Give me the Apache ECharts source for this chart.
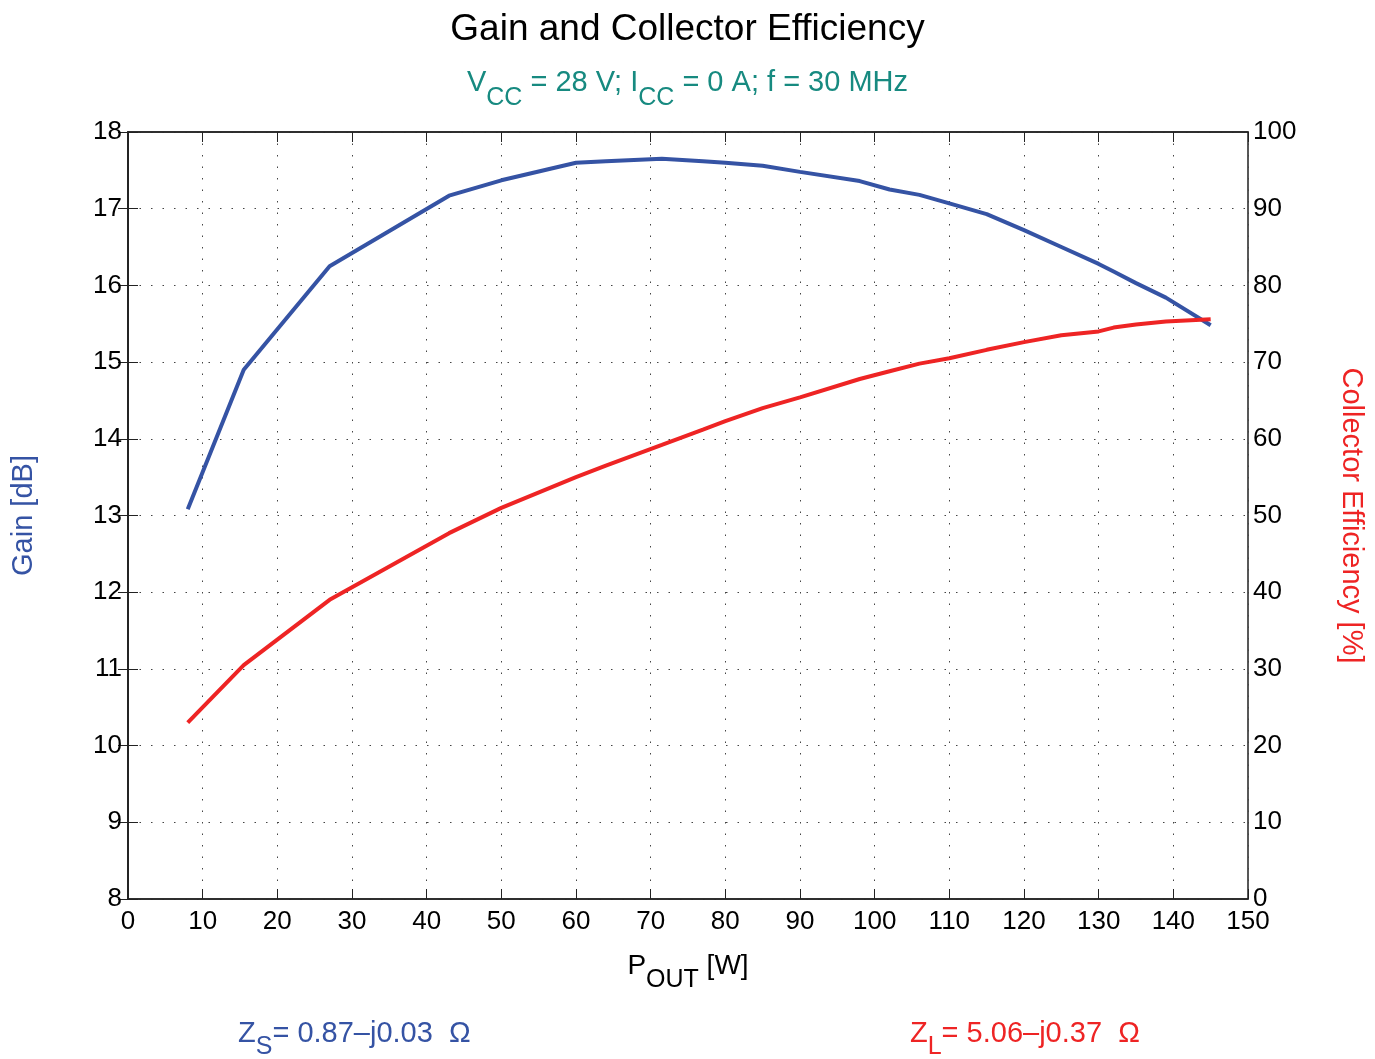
<!DOCTYPE html>
<html>
<head>
<meta charset="utf-8">
<script src="https://cdn.jsdelivr.net/npm/echarts@6/dist/echarts.min.js"></script>
<style>
  html, body { margin: 0; padding: 0; background: #fff; }
  #chart { width: 1375px; height: 1059px; }
</style>
</head>
<body>
<div id="chart"></div>
<script>
// output power [W]
var pout = [8, 15.5, 27, 43, 50, 60, 64, 71.5, 77, 80, 85, 90, 98, 102, 106, 110, 115, 120, 125, 130, 132, 135, 139, 145];
// gain [dB]
var gain = [13.08, 14.9, 16.25, 17.17, 17.37, 17.6, 17.62, 17.65, 17.62, 17.6, 17.56, 17.48, 17.36, 17.25, 17.18, 17.07, 16.93, 16.72, 16.5, 16.28, 16.18, 16.03, 15.84, 15.48];
// collector efficiency [%]
var efficiency = [23, 30.5, 39, 47.7, 51, 55, 56.5, 59.2, 61.2, 62.3, 64, 65.4, 67.8, 68.8, 69.8, 70.5, 71.6, 72.6, 73.5, 74, 74.5, 74.9, 75.3, 75.6];

var BLUE = '#3553a4';
var RED = '#ee2424';
var TEAL = '#178a80';
var AXIS = '#222';
var FONT = '"Liberation Sans", Arial, Helvetica, sans-serif';

function pairs(xs, ys) {
    var out = [];
    for (var i = 0; i < xs.length; i++) {
        out.push([xs[i], ys[i]]);
    }
    return out;
}

// rich styles for "main text + dropped subscript"
function subRich(color, size, subSize, drop, key) {
    var n = { fontSize: size, fontWeight: 'normal', fontFamily: FONT, verticalAlign: 'top' };
    var s = { fontSize: subSize, fontWeight: 'normal', fontFamily: FONT, verticalAlign: 'top', padding: [drop, 0, 0, 0] };
    n[key] = color;
    s[key] = color;
    return { n: n, s: s };
}

var gridDots = {
    show: true,
    lineStyle: { color: '#444', width: 1, type: [1.5, 10] }
};

var chart = echarts.init(document.getElementById('chart'));
chart.setOption({
    backgroundColor: '#fff',
    animation: false,
    textStyle: { fontFamily: FONT },
    title: [{
        text: 'Gain and Collector Efficiency',
        left: 'center',
        top: 6,
        textStyle: { fontSize: 37, fontWeight: 'normal', color: '#000', fontFamily: FONT }
    }, {
        // subtitle with subscripts
        text: '{n|V}{s|CC}{n| = 28 V; I}{s|CC}{n| = 0 A; f = 30 MHz}',
        left: 'center',
        top: 63,
        textStyle: { fontWeight: 'normal', rich: subRich(TEAL, 29, 25, 18, 'color') }
    }],
    grid: {
        left: 128,
        right: 127,
        top: 132,
        bottom: 160,
        show: true,
        borderColor: AXIS,
        borderWidth: 1.5
    },
    xAxis: [{
        type: 'value',
        min: 0,
        max: 150,
        interval: 10,
        position: 'bottom',
        axisLine: { show: true, lineStyle: { color: AXIS, width: 1.5 } },
        axisTick: { show: true, inside: true, length: 10, lineStyle: { color: AXIS } },
        axisLabel: { fontSize: 26, color: '#000', margin: 10, fontFamily: FONT },
        splitLine: gridDots,
        name: '{n|P}{s|OUT}{n| [W]}',
        nameLocation: 'middle',
        nameGap: 53,
        nameTextStyle: { rich: subRich('#000', 28, 25, 16, 'color') }
    }, {
        // mirrored ticks along the top edge
        type: 'value',
        min: 0,
        max: 150,
        interval: 10,
        position: 'top',
        axisLine: { show: true, lineStyle: { color: AXIS, width: 1.5 } },
        axisTick: { show: true, inside: true, length: 10, lineStyle: { color: AXIS } },
        axisLabel: { show: false },
        splitLine: { show: false }
    }],
    yAxis: [{
        type: 'value',
        min: 8,
        max: 18,
        interval: 1,
        position: 'left',
        axisLine: { show: true, lineStyle: { color: AXIS, width: 1.5 } },
        axisTick: { show: true, inside: true, length: 10, lineStyle: { color: AXIS } },
        axisLabel: { fontSize: 26, color: '#000', margin: 6, fontFamily: FONT },
        splitLine: gridDots,
        name: 'Gain [dB]',
        nameLocation: 'middle',
        nameRotate: 90,
        nameGap: 90,
        nameTextStyle: { fontSize: 29, color: BLUE, fontFamily: FONT }
    }, {
        type: 'value',
        min: 0,
        max: 100,
        interval: 10,
        position: 'right',
        axisLine: { show: true, lineStyle: { color: AXIS, width: 1.5 } },
        axisTick: { show: true, inside: true, length: 10, lineStyle: { color: AXIS } },
        axisLabel: { fontSize: 26, color: '#000', margin: 5, fontFamily: FONT },
        splitLine: { show: false },
        name: 'Collector Efficiency [%]',
        nameLocation: 'middle',
        nameRotate: -90,
        nameGap: 88,
        nameTextStyle: { fontSize: 29, color: RED, fontFamily: FONT }
    }],
    series: [{
        name: 'Gain',
        type: 'line',
        xAxisIndex: 0,
        yAxisIndex: 0,
        data: pairs(pout, gain),
        showSymbol: false,
        lineStyle: { color: BLUE, width: 4 },
        z: 3
    }, {
        name: 'Collector Efficiency',
        type: 'line',
        xAxisIndex: 0,
        yAxisIndex: 1,
        data: pairs(pout, efficiency),
        showSymbol: false,
        lineStyle: { color: RED, width: 4 },
        z: 4
    }],
    graphic: [{
        type: 'text',
        left: 238,
        top: 1019,
        style: {
            text: '{n|Z}{s|S}{n|= 0.87\u2013j0.03  \u03A9}',
            rich: subRich(BLUE, 29, 25, 16, 'fill')
        }
    }, {
        type: 'text',
        left: 910,
        top: 1019,
        style: {
            text: '{n|Z}{s|L}{n|= 5.06\u2013j0.37  \u03A9}',
            rich: subRich(RED, 29, 25, 16, 'fill')
        }
    }]
});
</script>
</body>
</html>
